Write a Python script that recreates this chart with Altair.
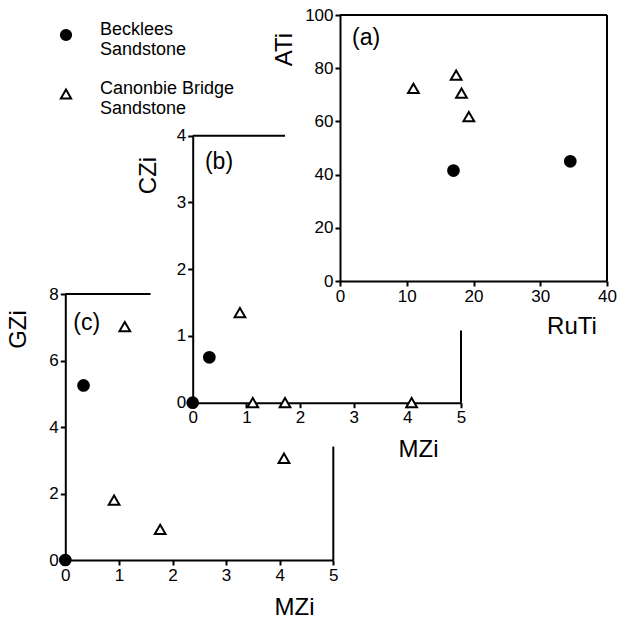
import altair as alt
import pandas as pd

W = H = 619
FONT = "Liberation Sans"

series_names = ["Becklees Sandstone", "Canonbie Bridge Sandstone"]
shapes = ["circle", "triangle-up"]
fills = ["black", "white"]

# Panel (a): RuTi vs ATi
a_series = ["Becklees Sandstone"] * 2 + ["Canonbie Bridge Sandstone"] * 4
a_ruti = [17.0, 34.5, 11.0, 17.4, 18.2, 19.3]
a_ati = [41.5, 45.0, 72.4, 77.4, 70.6, 61.8]

# Panel (b): MZi vs CZi
b_series = ["Becklees Sandstone"] * 2 + ["Canonbie Bridge Sandstone"] * 4
b_mzi = [0.0, 0.31, 0.88, 1.12, 1.72, 4.08]
b_czi = [0.0, 0.68, 1.35, 0.0, 0.0, 0.0]

# Panel (c): MZi vs GZi
c_series = ["Becklees Sandstone"] * 2 + ["Canonbie Bridge Sandstone"] * 4
c_mzi = [0.0, 0.34, 1.11, 0.91, 1.77, 4.08]
c_gzi = [0.0, 5.25, 7.02, 1.80, 0.92, 3.06]

# tick values
a_xticks = [0, 10, 20, 30, 40]
a_yticks = [0, 20, 40, 60, 80, 100]
b_xticks = [0, 1, 2, 3, 4, 5]
b_yticks = [0, 1, 2, 3, 4]
c_xticks = [0, 1, 2, 3, 4, 5]
c_yticks = [0, 2, 4, 6, 8]

# frame line segments (data units): x1, x2, y1, y2
a_frame = {"x1": [0, 40], "x2": [40, 40], "y1": [100, 0], "y2": [100, 100]}
b_frame = {"x1": [0, 5], "x2": [1.72, 5], "y1": [4, 0], "y2": [4, 1.08]}
c_frame = {"x1": [0, 5], "x2": [1.59, 5], "y1": [8, 0], "y2": [8, 3.41]}

# panel tags
a_tag = {"x": [3.9], "y": [91.4], "t": ["(a)"]}
b_tag = {"x": [0.49], "y": [3.61], "t": ["(b)"]}
c_tag = {"x": [0.40], "y": [7.13], "t": ["(c)"]}


def panel(xname, yname, xs_, ys_, series, xdom, ydom, xrange, yrange,
          xticks, yticks, xtitle_pos, ytitle_pos, frame, tag, legend):
    def xs():
        return alt.Scale(domain=xdom, range=xrange, nice=False, zero=False)

    def ys():
        return alt.Scale(domain=ydom, range=yrange, nice=False, zero=False)

    xaxis = alt.Axis(orient="bottom", offset=yrange[0] - H, values=xticks,
                     title=xname, titleX=xtitle_pos[0], titleY=xtitle_pos[1],
                     titleAngle=0, titleAlign="center", titleBaseline="alphabetic")
    yaxis = alt.Axis(orient="left", offset=-xrange[0], values=yticks,
                     title=yname, titleX=ytitle_pos[0], titleY=ytitle_pos[1],
                     titleAngle=270, titleAlign="center", titleBaseline="alphabetic")
    df = pd.DataFrame({"xv": xs_, "yv": ys_, "series": series})
    pts = alt.Chart(df).mark_point(filled=False, strokeWidth=2, size=115, opacity=1).encode(
        x=alt.X("xv:Q", scale=xs(), axis=xaxis),
        y=alt.Y("yv:Q", scale=ys(), axis=yaxis),
        shape=alt.Shape("series:N", scale=alt.Scale(domain=series_names, range=shapes), legend=legend),
        fill=alt.Fill("series:N", scale=alt.Scale(domain=series_names, range=fills), legend=legend),
        stroke=alt.Stroke("series:N", scale=alt.Scale(domain=series_names, range=["black", "black"]), legend=legend),
    )
    fr = alt.Chart(pd.DataFrame(frame)).mark_rule(color="black", strokeWidth=2).encode(
        x=alt.X("x1:Q", scale=xs(), axis=None), x2="x2:Q",
        y=alt.Y("y1:Q", scale=ys(), axis=None), y2="y2:Q",
    )
    tg = alt.Chart(pd.DataFrame(tag)).mark_text(font=FONT, fontSize=23, color="black").encode(
        x=alt.X("x:Q", scale=xs(), axis=None),
        y=alt.Y("y:Q", scale=ys(), axis=None),
        text="t:N",
    )
    return [fr, pts, tg]


legend = alt.Legend(
    orient="none", legendX=57, legendY=26, title=None, padding=0,
    labelFont=FONT, labelFontSize=18, labelColor="black", labelBaseline="alphabetic",
    labelExpr="[slice(datum.label, 0, lastindexof(datum.label, ' ')), slice(datum.label, lastindexof(datum.label, ' ') + 1)]",
    labelOffset=25, rowPadding=21, symbolSize=105, symbolStrokeWidth=2,
)

layers = []
layers += panel("RuTi", "ATi", a_ruti, a_ati, a_series, [0, 40], [0, 100], [340, 607], [281, 15],
                a_xticks, a_yticks, (571.5, 52), (-49, 49), a_frame, a_tag, legend)
layers += panel("MZi", "CZi", b_mzi, b_czi, b_series, [0, 5], [0, 4], [192.7, 461], [402.7, 135.7],
                b_xticks, b_yticks, (418, 54), (-37, 175), b_frame, b_tag, None)
layers += panel("MZi", "GZi", c_mzi, c_gzi, c_series, [0, 5], [0, 8], [65.3, 333.3], [560, 294],
                c_xticks, c_yticks, (294, 54), (-40, 329), c_frame, c_tag, None)

chart = alt.layer(*layers).resolve_scale(
    x="independent", y="independent"
).resolve_axis(
    x="independent", y="independent"
).properties(
    width=W, height=H, autosize=alt.AutoSizeParams(type="none"), padding=0,
    background="white",
).configure_view(stroke=None).configure_axis(
    domainColor="black", domainWidth=2, tickColor="black", tickWidth=2, tickSize=5,
    labelFont=FONT, labelFontSize=17, labelColor="black", labelPadding=2, labelFlush=False,
    labelOverlap=False,
    titleFont=FONT, titleFontSize=24, titleFontWeight="normal", titleColor="black",
    grid=False,
)

chart.save("out.html", embed_options={"renderer": "svg", "actions": False})
